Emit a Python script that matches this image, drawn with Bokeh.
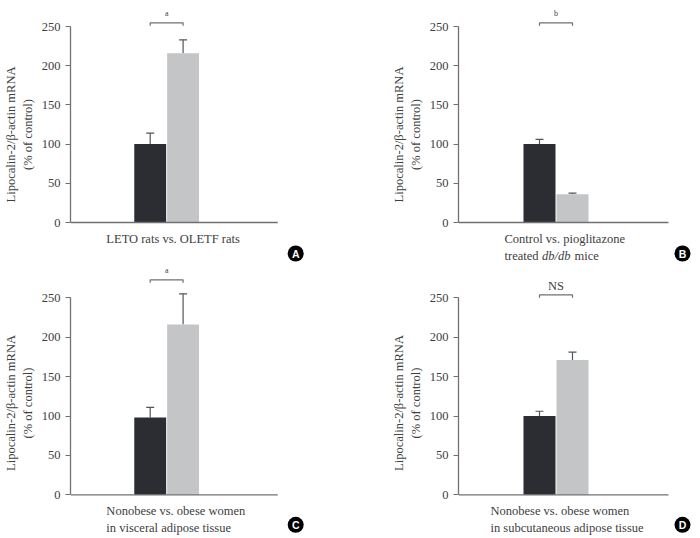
from bokeh.plotting import figure
from bokeh.models import Range1d, Whisker, ColumnDataSource, TeeHead, FixedTicker
from bokeh.layouts import gridplot
from bokeh.core.properties import value
from bokeh.embed import file_html
from bokeh.resources import INLINE

# ---------------- data ----------------
y_ticks = [0, 50, 100, 150, 200, 250]
y_label = "Lipocalin-2/\u03b2-actin mRNA\n(% of control)"

a_values = [100, 216]
a_errors = [14, 17]
b_values = [100, 36]
b_errors = [6, 1.5]
c_values = [98, 216]
c_errors = [13, 39]
d_values = [100, 171]
d_errors = [6, 10]

sig_labels = ["a", "b", "a", "NS"]
panel_letters = ["A", "B", "C", "D"]
a_xlabel = [["LETO rats vs. OLETF rats"]]
b_xlabel = [["Control vs. pioglitazone"], ["treated", "db/db", "mice"]]
c_xlabel = [["Nonobese vs. obese women"], ["in visceral adipose tissue"]]
d_xlabel = [["Nonobese vs. obese women"], ["in subcutaneous adipose tissue"]]

# ---------------- style ----------------
DARK = "#2c2d32"
LIGHT = "#c3c5c7"
TEXT = "#404040"
AXIS = "#707070"
ERR = "#555555"
FONT = "Liberation Serif"
BAR_PX = 33.0
FIG_W = 350


def make_panel(vals, errs, sig, sig_size, sig_gap_px, bracket_px, xlab, letter,
               fig_h, b_top, zero_px, fl, ax_r, dark_center, scale, label_x, letter_x, letter_dy):
    # zero_px: y pixel (from figure top) of value 0; frame reaches figure bottom
    fr = FIG_W - 2
    x0 = -(dark_center - fl) / BAR_PX
    x1 = (fr - dark_center) / BAR_PX
    ymax = (zero_px - b_top) / scale
    ymin = -(fig_h - zero_px) / scale

    def dx(px):
        return x0 + (px - fl) / BAR_PX

    def dy(px_above_zero):
        return px_above_zero / scale

    p = figure(width=FIG_W, height=fig_h, output_backend="svg", toolbar_location=None,
               x_range=Range1d(x0, x1), y_range=Range1d(ymin, ymax),
               min_border_left=fl, min_border_right=FIG_W - fr,
               min_border_top=b_top, min_border_bottom=0)
    p.outline_line_color = None
    p.xgrid.visible = False
    p.ygrid.visible = False
    p.xaxis.visible = False
    p.background_fill_color = "white"
    p.border_fill_color = "white"

    xs = list(range(len(vals)))
    src = ColumnDataSource(dict(x=xs, top=vals, color=[DARK, LIGHT],
                                lower=vals, upper=[v + e for v, e in zip(vals, errs)]))
    p.vbar(x="x", top="top", width=0.97, bottom=0, fill_color="color", line_color=None, source=src)
    p.add_layout(Whisker(source=src, base="x", lower="lower", upper="upper",
                         line_color=ERR, line_width=1.2,
                         upper_head=TeeHead(size=8, line_color=ERR, line_width=1.2),
                         lower_head=None))

    # baseline (x axis line)
    p.segment(x0=[x0], y0=[0], x1=[dx(ax_r)], y1=[0], line_color=AXIS, line_width=1.3)

    # significance bracket
    by = dy(bracket_px)
    tick = dy(3)
    p.line(x=[xs[0], xs[0], xs[1], xs[1]], y=[by - tick, by, by, by - tick],
           line_color=AXIS, line_width=1.2)
    p.text(x=[(xs[0] + xs[1]) / 2], y=[by + dy(sig_gap_px)], text=[sig],
           text_font=value(FONT), text_font_size=sig_size, text_color=TEXT,
           text_align="center", text_baseline="middle")

    # y axis
    ya = p.yaxis[0]
    ya.ticker = FixedTicker(ticks=y_ticks)
    ya.bounds = (0, 250)
    ya.axis_label = y_label
    ya.axis_label_text_font = FONT
    ya.axis_label_text_font_style = "normal"
    ya.axis_label_text_font_size = "12.5px"
    ya.axis_label_text_color = TEXT
    ya.axis_label_standoff = 4
    ya.major_label_text_font = FONT
    ya.major_label_text_font_size = "12.5px"
    ya.major_label_text_color = TEXT
    ya.major_label_standoff = 5
    ya.major_tick_out = 5
    ya.major_tick_in = 0
    ya.minor_tick_line_color = None
    ya.axis_line_color = AXIS
    ya.axis_line_width = 1.3
    ya.major_tick_line_color = AXIS

    # x labels (left aligned lines)
    offsets = [16.5, 33]
    for li, parts in enumerate(xlab):
        if len(parts) == 1:
            p.text(x=[dx(label_x)], y=[dy(-offsets[li])], text=[parts[0]],
                   text_font=value(FONT), text_font_size="12.5px", text_color=TEXT,
                   text_align="left", text_baseline="middle")
        else:
            starts = [label_x, label_x + 37.5, label_x + 70]
            styles = ["normal", "italic", "normal"]
            for s, part, st in zip(starts, parts, styles):
                p.text(x=[dx(s)], y=[dy(-offsets[li])], text=[part],
                       text_font=value(FONT), text_font_size="12.5px", text_color=TEXT,
                       text_font_style=st, text_align="left", text_baseline="middle")

    # panel letter in a black disc
    lx, ly = dx(letter_x), dy(-letter_dy)
    p.scatter(x=[lx], y=[ly], size=16, marker="circle", fill_color="black", line_color=None)
    p.text(x=[lx], y=[ly], text=[letter], text_font=value("Liberation Sans"),
           text_font_style="bold", text_font_size="10.5px", text_color="white",
           text_align="center", text_baseline="middle")
    return p


TOP_H = 264
BOT_H = 274

pa = make_panel(a_values, a_errors, sig_labels[0], "8px", 9, 199.7, a_xlabel, panel_letters[0],
                TOP_H, 4, 222, 69, 277, 149, 196 / 250, 105, 295, 31)
pb = make_panel(b_values, b_errors, sig_labels[1], "8px", 9.5, 199.7, b_xlabel, panel_letters[1],
                TOP_H, 4, 222, 458 - 350, 668 - 350, 539 - 350, 196 / 250, 504 - 350, 682 - 350, 31)
pc = make_panel(c_values, c_errors, sig_labels[2], "8px", 9, 215, c_xlabel, panel_letters[2],
                BOT_H, 3, 230.3, 69, 277, 149, 197 / 250, 105, 295, 30)
pd = make_panel(d_values, d_errors, sig_labels[3], "12.5px", 8.5, 200, d_xlabel, panel_letters[3],
                BOT_H, 3, 230.3, 458 - 350, 668 - 350, 539 - 350, 197 / 250, 490 - 350, 682 - 350, 30)

grid = gridplot([[pa, pb], [pc, pd]], toolbar_location=None)

open("out.html", "w").write(file_html(grid, INLINE))
